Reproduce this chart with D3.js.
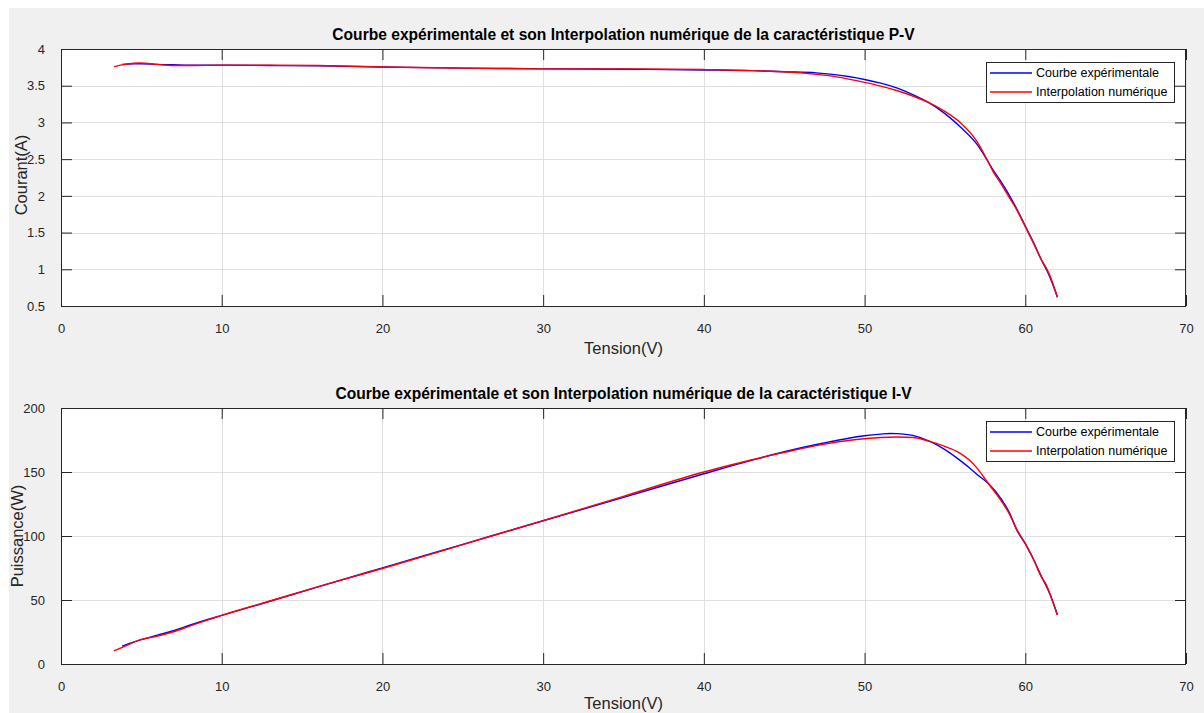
<!DOCTYPE html>
<html>
<head>
<meta charset="utf-8">
<script src="https://cdn.jsdelivr.net/npm/d3@7/dist/d3.min.js"></script>
<style>
  html, body { margin: 0; padding: 0; background: #ffffff; }
  svg { display: block; }
  text { font-family: "Liberation Sans", Arial, Helvetica, sans-serif; }
</style>
</head>
<body>
<svg id="fig" width="1204" height="713"></svg>
<script>
// Measured I-V data (experimental) and its numerical interpolation
const expV = [3.8, 4.5, 5, 6, 7, 8, 10, 13, 16, 20, 25, 30, 35, 40, 43, 45, 47, 48, 49, 50, 51, 52, 53, 54, 55, 56, 57, 57.7, 58, 58.5, 59, 59.5, 60, 60.5, 61, 61.5, 62];
const expI = [3.79, 3.80, 3.80, 3.79, 3.785, 3.78, 3.78, 3.775, 3.77, 3.755, 3.74, 3.73, 3.725, 3.715, 3.705, 3.69, 3.675, 3.655, 3.625, 3.585, 3.535, 3.47, 3.38, 3.27, 3.12, 2.93, 2.70, 2.46, 2.35, 2.19, 2.01, 1.81, 1.59, 1.37, 1.13, 0.91, 0.62];

const intV = [3.3, 4, 4.9, 6, 7, 8, 10, 13, 16, 20, 25, 30, 35, 40, 43, 45, 47, 48, 49, 50, 51, 52, 53, 54, 55, 56, 57, 57.7, 58, 58.5, 59, 59.5, 60, 60.5, 61, 61.3, 61.5, 62];
const intI = [3.76, 3.79, 3.81, 3.79, 3.775, 3.775, 3.78, 3.78, 3.775, 3.755, 3.74, 3.73, 3.73, 3.72, 3.705, 3.69, 3.655, 3.63, 3.59, 3.545, 3.495, 3.435, 3.36, 3.27, 3.15, 2.99, 2.74, 2.46, 2.33, 2.16, 1.98, 1.80, 1.58, 1.36, 1.13, 1.02, 0.93, 0.62];

// Power readings for the P-V panel
const expPV = [3.8, 5, 6, 7, 8, 10, 13, 16, 20, 25, 30, 35, 40, 43, 45, 47, 48, 49, 50, 51, 51.6, 52, 53, 54.1, 55, 55.9, 56.5, 57, 57.7, 58.5, 59, 59.5, 60, 60.5, 61, 61.5, 62];
const expP = [14, 19, 22.5, 26, 30.3, 38, 49, 60.3, 75.1, 93.5, 111.9, 130.2, 148.6, 159.3, 165.8, 171.5, 174, 176.4, 178.3, 179.6, 180.1, 180, 178.6, 173.7, 167.5, 159.5, 153.5, 148, 141, 129, 118.5, 104, 94, 82, 68.5, 55.5, 38.3];

const intPV = [3.3, 4, 4.9, 6, 7, 8, 10, 13, 16, 20, 25, 30, 35, 40, 43, 45, 47, 48, 49, 50, 51, 52, 53, 54.1, 55, 55.9, 56.5, 57, 57.7, 58.5, 59, 59.5, 60, 60.5, 61, 61.3, 61.5, 62];
const intP = [10.3, 14, 18.8, 21.8, 25.2, 29.6, 38, 49.2, 60.5, 74.6, 93.2, 112, 131, 150, 159.6, 165.3, 170.6, 172.8, 174.6, 176, 177, 177.3, 177, 173.7, 170, 165, 159.5, 153, 141, 127.5, 117.5, 104.5, 94, 82, 68, 62, 56, 38.3];

const xTicks = [0, 10, 20, 30, 40, 50, 60, 70];
const iTicks = [0.5, 1, 1.5, 2, 2.5, 3, 3.5, 4];
const pTicks = [0, 50, 100, 150, 200];

const legendNames = ["Courbe expérimentale", "Interpolation numérique"];
const seriesColors = ["#0000ff", "#ff0000"];

const svg = d3.select("#fig");

// figure background
svg.append("rect").attr("x", 9).attr("y", 8).attr("width", 1195).attr("height", 705).attr("fill", "#f0f0f0");

function panel(opts) {
  const { left, right, top, bottom, xDomain, yDomain, yTickVals, yFmt, title, yLabel, series } = opts;
  const x = d3.scaleLinear().domain(xDomain).range([left, right]);
  const y = d3.scaleLinear().domain(yDomain).range([bottom, top]);
  const g = svg.append("g");

  g.append("rect").attr("x", left).attr("y", top).attr("width", right - left).attr("height", bottom - top).attr("fill", "#ffffff");

  // grid
  const grid = g.append("g").attr("stroke", "#dfdfdf").attr("stroke-width", 1);
  xTicks.forEach(t => grid.append("line").attr("x1", Math.round(x(t)) + 0.5).attr("x2", Math.round(x(t)) + 0.5).attr("y1", top).attr("y2", bottom));
  yTickVals.forEach(t => grid.append("line").attr("y1", Math.round(y(t)) + 0.5).attr("y2", Math.round(y(t)) + 0.5).attr("x1", left).attr("x2", right));

  // data lines
  const line = d3.line().x(d => x(d[0])).y(d => y(d[1])).curve(d3.curveMonotoneX);
  series.forEach(s => {
    g.append("path").datum(d3.zip(s.xs, s.ys)).attr("d", line)
      .attr("fill", "none").attr("stroke", s.color).attr("stroke-width", 1.4)
      .attr("stroke-linejoin", "round");
  });

  // axes (ticks inside, box on)
  const tl = 11;
  const bottomAx = g.append("g").attr("transform", `translate(0,${bottom})`)
    .call(d3.axisBottom(x).tickValues(xTicks).tickSize(-tl).tickPadding(tl + 7).tickSizeOuter(0));
  const topAx = g.append("g").attr("transform", `translate(0,${top})`)
    .call(d3.axisTop(x).tickValues(xTicks).tickSize(-tl).tickFormat("").tickSizeOuter(0));
  const leftAx = g.append("g").attr("transform", `translate(${left},0)`)
    .call(d3.axisLeft(y).tickValues(yTickVals).tickSize(-tl).tickPadding(tl + 5).tickFormat(yFmt).tickSizeOuter(0));
  const rightAx = g.append("g").attr("transform", `translate(${right},0)`)
    .call(d3.axisRight(y).tickValues(yTickVals).tickSize(-tl).tickFormat("").tickSizeOuter(0));
  [bottomAx, topAx, leftAx, rightAx].forEach(a => {
    a.select(".domain").remove();
    a.selectAll("line").attr("stroke", "#262626");
    a.selectAll("text").attr("fill", "#262626").style("font-size", "13px").style("font-family", "'Liberation Sans', Arial, sans-serif");
  });
  g.append("rect").attr("x", left + 0.5).attr("y", top + 0.5).attr("width", right - left - 1).attr("height", bottom - top)
    .attr("fill", "none").attr("stroke", "#262626").attr("stroke-width", 1);

  // title
  g.append("text").attr("x", (left + right) / 2).attr("y", top - 9).attr("text-anchor", "middle")
    .style("font-weight", "bold").style("font-size", "15.6px").attr("fill", "#000").text(title);
  // axis labels
  g.append("text").attr("x", (left + right) / 2).attr("y", bottom + opts.xLabelOffset).attr("text-anchor", "middle")
    .style("font-size", "16.5px").attr("fill", "#262626").text("Tension(V)");
  g.append("text").attr("transform", `translate(${opts.yLabelX},${opts.yLabelY}) rotate(-90)`)
    .attr("text-anchor", "middle").style("font-size", "16.5px").attr("fill", "#262626").text(yLabel);

  // legend
  const lx = 986, ly = top + 13, lw = 188, lh = 40;
  const leg = g.append("g");
  leg.append("rect").attr("x", lx + 0.5).attr("y", ly + 0.5).attr("width", lw).attr("height", lh)
    .attr("fill", "#ffffff").attr("stroke", "#262626").attr("stroke-width", 1);
  legendNames.forEach((name, i) => {
    const yy = ly + 11 + i * 19;
    leg.append("line").attr("x1", lx + 4).attr("x2", lx + 46).attr("y1", yy).attr("y2", yy)
      .attr("stroke", seriesColors[i]).attr("stroke-width", 1.4);
    leg.append("text").attr("x", lx + 50).attr("y", yy).attr("dy", "0.35em")
      .style("font-size", "12.5px").attr("fill", "#000").text(name);
  });
}

panel({
  left: 61, right: 1186, top: 49, bottom: 306,
  xDomain: [0, 70], yDomain: [0.5, 4], yTickVals: iTicks, yFmt: d3.format("~g"),
  title: "Courbe expérimentale et son Interpolation numérique de la caractéristique P-V",
  yLabel: "Courant(A)", yLabelX: 27, yLabelY: 175, xLabelOffset: 48,
  series: [
    { xs: expV, ys: expI, color: seriesColors[0] },
    { xs: intV, ys: intI, color: seriesColors[1] }
  ]
});

panel({
  left: 61, right: 1186, top: 408, bottom: 664,
  xDomain: [0, 70], yDomain: [0, 200], yTickVals: pTicks, yFmt: d3.format("d"),
  title: "Courbe expérimentale et son Interpolation numérique de la caractéristique I-V",
  yLabel: "Puissance(W)", yLabelX: 23, yLabelY: 536, xLabelOffset: 45,
  series: [
    { xs: expPV, ys: expP, color: seriesColors[0] },
    { xs: intPV, ys: intP, color: seriesColors[1] }
  ]
});
</script>
</body>
</html>
